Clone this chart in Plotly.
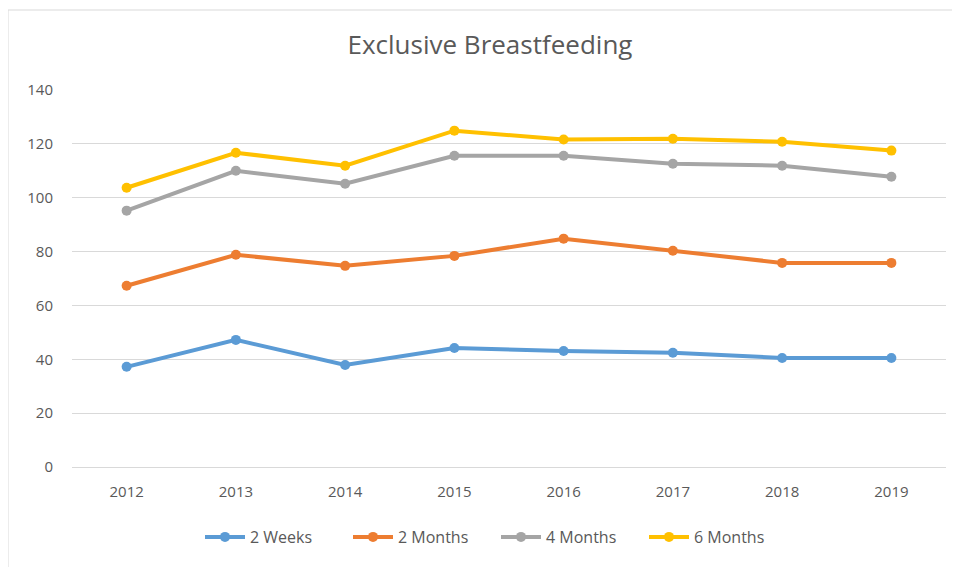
import plotly.graph_objects as go

years = ["2012", "2013", "2014", "2015", "2016", "2017", "2018", "2019"]
weeks2 = [37.2, 47.2, 37.9, 44.2, 43.1, 42.4, 40.5, 40.5]
months2 = [67.3, 78.8, 74.7, 78.4, 84.8, 80.3, 75.8, 75.8]
months4 = [95.2, 110.0, 105.2, 115.6, 115.6, 112.6, 111.9, 107.8]
months6 = [103.7, 116.7, 111.9, 124.9, 121.6, 121.9, 120.8, 117.5]
series_names = ["2 Weeks", "2 Months", "4 Months", "6 Months"]
colors = ["#5B9BD5", "#ED7D31", "#A5A5A5", "#FFC000"]

fig = go.Figure()
for name, vals, c in zip(series_names, [weeks2, months2, months4, months6], colors):
    fig.add_trace(go.Scatter(
        x=years, y=vals, name=name, mode="lines+markers",
        line=dict(color=c, width=4),
        marker=dict(color=c, size=10),
    ))

# page body has an 8px margin, so figure coords = screen coords - 8
L, T = 64, 82
PW, PH = 874, 377
font_family = "Liberation Sans Narrow, Open Sans, Liberation Sans, sans-serif"
fig.update_layout(
    width=960, height=567,
    paper_bgcolor="white", plot_bgcolor="white",
    margin=dict(l=L, r=960 - L - PW, t=T, b=567 - T - PH),
    title=dict(text="Exclusive Breastfeeding", x=(490 - 8) / 960, xanchor="center",
               y=1 - 37 / 567, yanchor="middle",
               font=dict(family=font_family, size=26, color="#595959")),
    font=dict(family=font_family, size=15, color="#595959"),
    xaxis=dict(type="category", range=[-0.5, 7.5], showgrid=False,
               showline=False, ticks="", ticklabelstandoff=14,
               tickfont=dict(size=15, color="#595959")),
    yaxis=dict(range=[0, 140], dtick=20, showgrid=True, gridcolor="#D9D9D9",
               gridwidth=1, zeroline=True, zerolinecolor="#D9D9D9", zerolinewidth=1,
               showline=False, ticks="", ticklabelstandoff=18,
               tickfont=dict(size=15, color="#595959")),
    legend=dict(orientation="h", x=(200 - 8 - L) / PW, xanchor="left",
                y=-70 / PH, yanchor="middle",
                font=dict(size=16, color="#595959"), entrywidth=93,
                entrywidthmode="pixels", itemwidth=40),
    showlegend=True,
    shapes=[dict(type="rect", xref="paper", yref="paper",
                 x0=(0 - L) / PW, x1=(965 - L) / PW,
                 y0=-(567 - T - PH + 10) / PH, y1=(PH + T - 2) / PH,
                 line=dict(color="#D9D9D9", width=1), fillcolor="rgba(0,0,0,0)",
                 layer="below")],
)

fig.write_html("out.html")
